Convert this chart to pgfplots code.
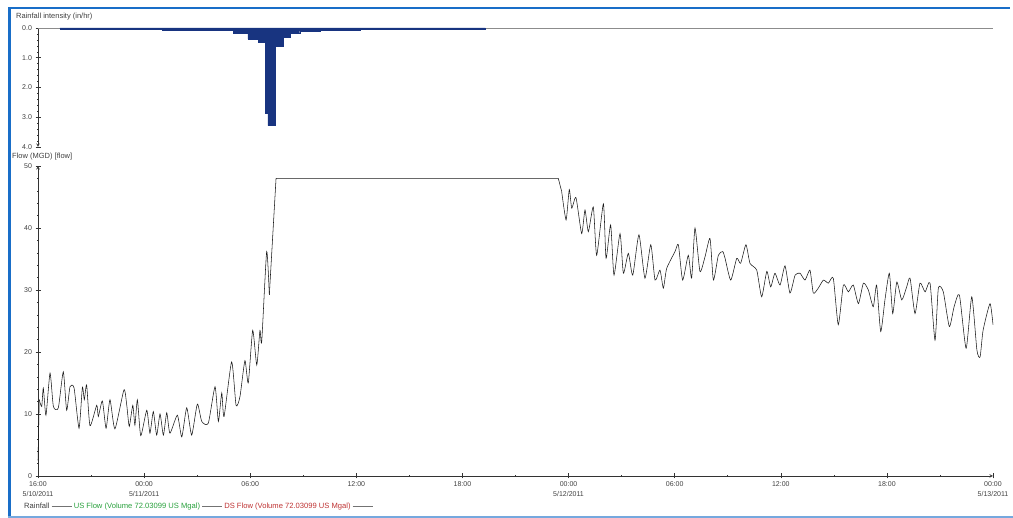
\documentclass[border=0pt]{standalone}
\usepackage{fontspec}
\setmainfont{Liberation Sans}
\usepackage{pgfplots}
\pgfplotsset{compat=1.18}
\definecolor{rainblue}{RGB}{24,52,128}
\definecolor{frameblue}{RGB}{25,110,200}
\definecolor{usgreen}{RGB}{40,160,60}
\definecolor{dsred}{RGB}{190,50,50}
\newcommand\legline{\textcolor{black!55}{\rule[2.4pt]{20pt}{0.5pt}}}
\begin{document}
\begin{tikzpicture}
\path[use as bounding box] (0pt,0pt) rectangle (1013pt,518pt);
\draw[frameblue, line width=3pt] (9.5pt,1pt) -- (9.5pt,510pt);
\draw[frameblue, line width=2.5pt] (8pt,510pt) -- (1010pt,510pt);
\draw[frameblue!60, line width=1.5pt] (8pt,1.2pt) -- (1013pt,1.2pt);
\pgfplotsset{common/.style={scale only axis,
  /pgf/number format/assume math mode=true,
  tick label style={font=\fontsize{7}{9.5}\selectfont, text=black!75},
  axis line style={-, black!80, line width=0.6pt},
  major tick length=5pt, minor tick length=2pt,
  tick style={black!80, line width=0.5pt},
  tick align=outside, xmin=0, xmax=54, clip=false},
  flow/.style={black!90, line width=0.55pt}}
% rainfall
\begin{axis}[common, at={(515.5pt,430.5pt)}, anchor=center, width=955pt, height=119pt,
  y dir=reverse, ymin=0, ymax=4, axis x line=none, axis y line=left,
  ytick={0,1,2,3,4}, minor y tick num=4,
  yticklabel style={/pgf/number format/.cd, fixed, fixed zerofill, precision=1}]
\addplot[black!45, line width=0.5pt] coordinates {(0,0) (54,0)};
\addplot[const plot, fill=rainblue, draw=rainblue, line width=0.4pt] coordinates {
(1.24,0.03) (2.37,0.03) (5.2,0.05) (7.0,0.06) (9.16,0.09) (11.03,0.17)
(11.87,0.37) (12.44,0.47) (12.84,2.85) (13.0,3.28) (13.4,0.62) (13.85,0.32)
(14.25,0.17) (14.8,0.1) (15.95,0.07) (18.2,0.05) (21.6,0.03) (25.3,0.03)} \closedcycle;
\end{axis}
% flow
\begin{axis}[common, at={(515.5pt,197pt)}, anchor=center, width=955pt, height=310pt,
  ymin=0, ymax=50, axis x line=bottom, axis y line=left,
  ytick={0,10,20,30,40,50}, minor y tick num=4,
  xtick={0,6,12,18,24,30,36,42,48,54}, minor x tick num=1,
  xticklabels={{16:00\\5/10/2011},{00:00\\5/11/2011},06:00,12:00,18:00,{00:00\\5/12/2011},06:00,12:00,18:00,{00:00\\5/13/2011}},
  xticklabel style={align=center, anchor=north}]
\addplot[flow] coordinates {(0,2.5) (0.07,12.3)};
\addplot[flow, smooth, tension=0.35] coordinates {
(0.07,12.3) (0.21,11.2) (0.30,14.2) (0.45,9.8) (0.68,16.6) (0.87,11.2)
(1.15,11) (1.43,16.8) (1.62,10.6) (1.81,14.4) (2.04,14.2) (2.32,7.7) (2.51,14.3) (2.62,12.3)
(2.75,14.7) (2.94,8.1) (3.32,11.4) (3.41,9.6) (3.64,12.1) (3.85,7.7) (4.07,12.3) (4.35,7.6)
(4.86,13.9) (5.02,11.4) (5.16,8) (5.36,11.4) (5.48,8.2) (5.62,12.3) (5.81,6.5) (6.15,10.6)
(6.33,6.9) (6.52,10.4) (6.71,6.6) (6.90,10) (7.09,6.6) (7.28,10.2) (7.46,6.9) (7.88,9.8)
(8.13,6.3) (8.41,11) (8.69,6.6) (9.01,11.6) (9.26,8.8) (9.63,8.5) (10.01,14.4) (10.20,8.8)
(10.39,13.4) (10.52,9.6) (10.95,18.4) (11.20,11.4) (11.42,12.8) (11.70,18.6) (11.89,15)
(12.14,23.5) (12.37,17.9) (12.55,23.5) (12.65,21.7) (12.93,36.2) (13.08,29.2)};
\addplot[flow] coordinates {(13.08,29.2) (13.46,48) (29.42,48) (29.61,45.9)};
\addplot[flow, smooth, tension=0.35] coordinates {
(29.61,45.9) (29.86,41.3) (30.04,46.2) (30.18,43.2) (30.42,44.9) (30.74,39.1)
(30.93,42.9) (31.12,39.4) (31.40,43.4) (31.59,35.6) (31.97,43.9) (32.12,35.1) (32.38,40.5)
(32.57,32.4) (32.91,39.1) (33.10,32.7) (33.38,35.9) (33.63,32.4) (33.98,38.9) (34.32,31.9)
(34.65,37.3) (34.89,31.6) (35.17,33.2) (35.36,30.3) (35.55,33.5) (36.02,36.2) (36.21,37.3)
(36.45,31.6) (36.77,35.6) (36.96,31.9) (37.15,40) (37.43,33) (37.72,35.4) (38.00,38.3)
(38.19,31.6) (38.47,35.6) (38.72,36.2) (38.85,35.1) (39.17,31.6) (39.51,35.1) (39.73,34.3)
(40.03,37.3) (40.26,34.3) (40.64,33.2) (40.92,28.9) (41.21,33) (41.43,30.5) (41.67,32.7)
(41.96,30.8) (42.24,33.9) (42.52,29.5) (42.81,32.4) (43.09,32.7) (43.37,31.6) (43.65,33.2)
(43.84,29.5) (44.12,30.3) (44.41,31.6) (44.69,31.1) (44.97,31.9) (45.25,24.4) (45.54,30.8)
(45.82,29.7) (46.10,30.8) (46.39,27.8) (46.67,31.1) (46.95,30) (47.23,27.3) (47.42,30.8)
(47.65,23.3) (47.89,28.4) (48.14,32.7) (48.33,26.2) (48.56,31.3) (48.84,28.4) (49.12,30.5)
(49.31,31.9) (49.59,26.2) (49.87,31.1) (50.16,29.7) (50.44,31.1) (50.72,21.9) (50.91,30.3)
(51.19,29.7) (51.53,24.1) (51.80,27.3) (52.10,29.2) (52.48,20.6) (52.80,28.9) (53.09,20.3)
(53.27,19.2) (53.44,23.5) (53.83,27.8) (54,24.4)};
\end{axis}
\node[anchor=west, font=\fontsize{7.5}{9}\selectfont, text=black!75, inner sep=0pt] at (16pt,501pt) {Rainfall intensity (in/hr)};
\node[anchor=west, font=\fontsize{7.5}{9}\selectfont, text=black!75, inner sep=0pt] at (12pt,361pt) {Flow (MGD) [flow]};
\node[anchor=west, font=\fontsize{7.6}{9}\selectfont, text=black!75, inner sep=0pt] at (24pt,11pt)
 {Rainfall \legline\ \textcolor{usgreen}{US Flow (Volume 72.03099 US Mgal)} \legline\ \textcolor{dsred}{DS Flow (Volume 72.03099 US Mgal)} \legline};
\end{tikzpicture}
\end{document}
